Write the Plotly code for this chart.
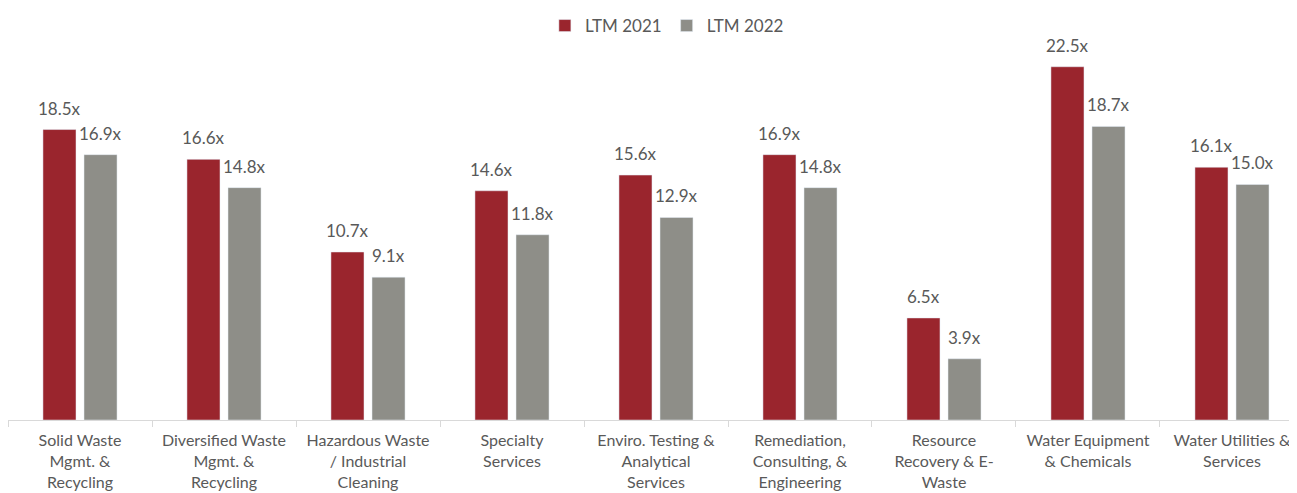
import plotly.graph_objects as go

categories = [
    "Solid Waste<br>Mgmt. &<br>Recycling",
    "Diversified Waste<br>Mgmt. &<br>Recycling",
    "Hazardous Waste<br>/ Industrial<br>Cleaning",
    "Specialty<br>Services",
    "Enviro. Testing &<br>Analytical<br>Services",
    "Remediation,<br>Consulting, &<br>Engineering",
    "Resource<br>Recovery & E-<br>Waste",
    "Water Equipment<br>& Chemicals",
    "Water Utilities &<br>Services",
]
ltm_2021 = [18.5, 16.6, 10.7, 14.6, 15.6, 16.9, 6.5, 22.5, 16.1]
ltm_2022 = [16.9, 14.8, 9.1, 11.8, 12.9, 14.8, 3.9, 18.7, 15.0]

RED = "#9A252D"
GRAY = "#8E8E88"
TXT = "#595959"
FONT = "Lato"
FS = 17

fig = go.Figure()
for name, vals, col in [("LTM 2021", ltm_2021, RED), ("LTM 2022", ltm_2022, GRAY)]:
    fig.add_trace(go.Bar(x=categories, y=vals, name=name, marker_color=col))

# value labels above bars
for vals, shift in [(ltm_2021, -20.5), (ltm_2022, 20.5)]:
    for c, v in zip(categories, vals):
        fig.add_annotation(x=c, y=v, text=f"{v:.1f}x", showarrow=False,
                           xshift=shift, yshift=9, yanchor="bottom",
                           font=dict(size=FS, color=TXT, family=FONT))

fig.update_layout(
    width=1297, height=493,
    margin=dict(l=0, r=0, t=22, b=81, autoexpand=False),
    barmode="group", bargap=0.43, bargroupgap=0.195,
    plot_bgcolor="white", paper_bgcolor="white",
    font=dict(family=FONT, size=FS, color=TXT),
    legend=dict(orientation="h", x=0.508, xanchor="center", y=1.0, yanchor="top",
                yref="container", font=dict(size=FS, color=TXT),
                itemwidth=30, traceorder="normal"),
)
fig.update_xaxes(
    range=[-0.5, 8.507], showline=True, linecolor="#D9D9D9", linewidth=1,
    ticks="outside", tickson="boundaries", ticklen=6, tickcolor="#D9D9D9",
    tickfont=dict(size=16, color=TXT, family=FONT), tickangle=0, showgrid=False,
    automargin=False, ticklabelstandoff=6,
)
fig.update_yaxes(range=[0, 24.84], visible=False, showgrid=False, zeroline=False,
                 automargin=False)

fig.write_html("out.html")
